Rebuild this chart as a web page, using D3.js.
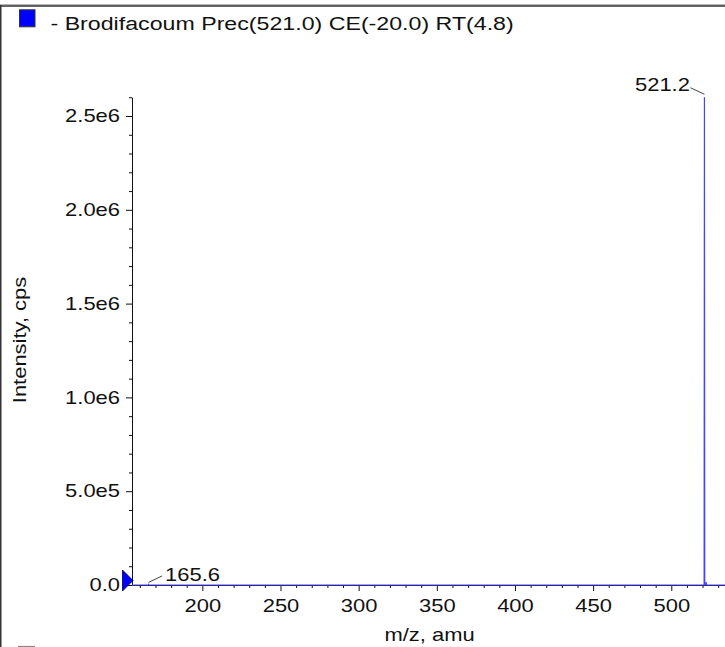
<!DOCTYPE html>
<html>
<head>
<meta charset="utf-8">
<script src="https://cdn.jsdelivr.net/npm/d3@7"></script>
<style>
  html, body { margin: 0; padding: 0; background: #fff; }
  svg { display: block; font-family: "Liberation Sans", Arial, Helvetica, sans-serif; }
</style>
</head>
<body>
<svg id="chart"></svg>
<script>
// spectrum (m/z, intensity in cps)
const mzValues = [155, 165.4, 165.6, 165.8, 521.0, 521.2, 521.4, 522.1, 522.3, 522.5, 535];
const intensities = [0, 0, 3000, 0, 0, 2600000, 0, 0, 16000, 0, 0];

// labelled peaks
const peakLabels = ["165.6", "521.2"];
const peakMz = [165.6, 521.2];
const peakIntensity = [3000, 2600000];

const xMajorTicks = [200, 250, 300, 350, 400, 450, 500];
const xMinorTicks = d3.range(160, 535, 10);
const yMajorTicks = [0, 500000, 1000000, 1500000, 2000000, 2500000];
const yTickLabels = ["0.0", "5.0e5", "1.0e6", "1.5e6", "2.0e6", "2.5e6"];
const yMinorTicks = d3.range(0, 2600001, 100000);

const legendText = "- Brodifacoum Prec(521.0) CE(-20.0) RT(4.8)";

const W = 725, H = 647;
const S = 1.22; // the text in the original is drawn wider than it is tall
const svg = d3.select("#chart").attr("width", W).attr("height", H);

const x = d3.scaleLinear().domain([155, 535]).range([132, 726]);
const y = d3.scaleLinear().domain([0, 2600000]).range([585, 97.25]);

const addText = (tx, ty, str, size, anchor, rot) => svg.append("text")
  .attr("transform", `translate(${tx}, ${ty})${rot ? " rotate(" + rot + ")" : ""} scale(${S}, 1)`)
  .attr("text-anchor", anchor || "start").style("font-size", size + "px").attr("fill", "#111").text(str);

// frame (top and left edges of the pane)
svg.append("line").attr("x1", 0).attr("x2", W).attr("y1", 4.8).attr("y2", 4.8).attr("stroke", "#999").attr("stroke-width", 1);
svg.append("line").attr("x1", 0).attr("x2", W).attr("y1", 6).attr("y2", 6).attr("stroke", "#333").attr("stroke-width", 1.5);
svg.append("line").attr("x1", 0.75).attr("x2", 0.75).attr("y1", 5).attr("y2", H).attr("stroke", "#333").attr("stroke-width", 1.5);
// top of the next legend entry, clipped
svg.append("line").attr("x1", 18).attr("x2", 35).attr("y1", 646.5).attr("y2", 646.5).attr("stroke", "#888").attr("stroke-width", 1.2);

// legend
svg.append("rect").attr("x", 19.5).attr("y", 9.8).attr("width", 15.5).attr("height", 17).attr("fill", "#0000ff").attr("stroke", "#333").attr("stroke-width", 1);
addText(50.5, 29.5, legendText, 19);

// axes
const xAxis = svg.append("g").attr("transform", `translate(0, ${y(0)})`)
  .call(d3.axisBottom(x).tickValues(xMajorTicks).tickSize(6).tickSizeOuter(0).tickPadding(8.5).tickFormat(d3.format("d")));
xAxis.select(".domain").attr("stroke", "#111");
xAxis.selectAll(".tick line").attr("stroke", "#111");
xAxis.selectAll(".tick text").style("font-size", "18px").attr("fill", "#111").attr("font-family", null)
  .attr("transform", `scale(${S}, 1)`);
svg.append("g").attr("transform", `translate(0, ${y(0)})`)
  .call(d3.axisBottom(x).tickValues(xMinorTicks.filter(v => v % 50 !== 0)).tickSize(3).tickSizeOuter(0).tickFormat(""))
  .call(g => g.select(".domain").remove())
  .selectAll(".tick line").attr("stroke", "#111");

const yAxis = svg.append("g").attr("transform", `translate(${x(155)}, 0)`)
  .call(d3.axisLeft(y).tickValues(yMajorTicks).tickSize(6).tickSizeOuter(0).tickPadding(6).tickFormat((d, i) => yTickLabels[i]));
yAxis.select(".domain").attr("stroke", "#111");
yAxis.selectAll(".tick line").attr("stroke", "#111");
yAxis.selectAll(".tick text").style("font-size", "18px").attr("fill", "#111").attr("font-family", null)
  .attr("x", -12 / S).attr("transform", `scale(${S}, 1)`);
svg.append("g").attr("transform", `translate(${x(155)}, 0)`)
  .call(d3.axisLeft(y).tickValues(yMinorTicks.filter(v => v % 500000 !== 0)).tickSize(3).tickSizeOuter(0).tickFormat(""))
  .call(g => g.select(".domain").remove())
  .selectAll(".tick line").attr("stroke", "#111");

// axis titles
addText(25.5, 340, "Intensity, cps", 18, "middle", -90);
addText(429.5, 641, "m/z, amu", 18, "middle");

// spectrum trace
const pts = mzValues.map((m, i) => [m, intensities[i]]);
svg.append("path").datum(pts)
  .attr("d", d3.line().x(d => x(d[0])).y(d => y(d[1])))
  .attr("fill", "none").attr("stroke", "#4444ff").attr("stroke-width", 1.2);

// precursor marker on the left of the baseline
const mx = x(155), my = y(0);
svg.append("path").attr("d", `M${mx - 9.5},${my - 15} L${mx + 1},${my - 4.5} L${mx - 9.5},${my + 6} Z`)
  .attr("fill", "#0000ff").attr("stroke", "#000033").attr("stroke-width", 0.8);

// peak annotations
peakLabels.forEach((lab, i) => {
  const px = x(peakMz[i]), py = y(peakIntensity[i]);
  if (i === 0) {
    svg.append("line").attr("x1", px).attr("y1", py - 2).attr("x2", px + 13.5).attr("y2", py - 8.5).attr("stroke", "#111").attr("stroke-width", 0.8);
    addText(px + 16.5, py - 3.5, lab, 18);
  } else {
    svg.append("line").attr("x1", px).attr("y1", py - 3).attr("x2", px - 14).attr("y2", py - 9.5).attr("stroke", "#111").attr("stroke-width", 0.8);
    addText(px - 14.5, py - 6.5, lab, 18, "end");
  }
});
</script>
</body>
</html>
